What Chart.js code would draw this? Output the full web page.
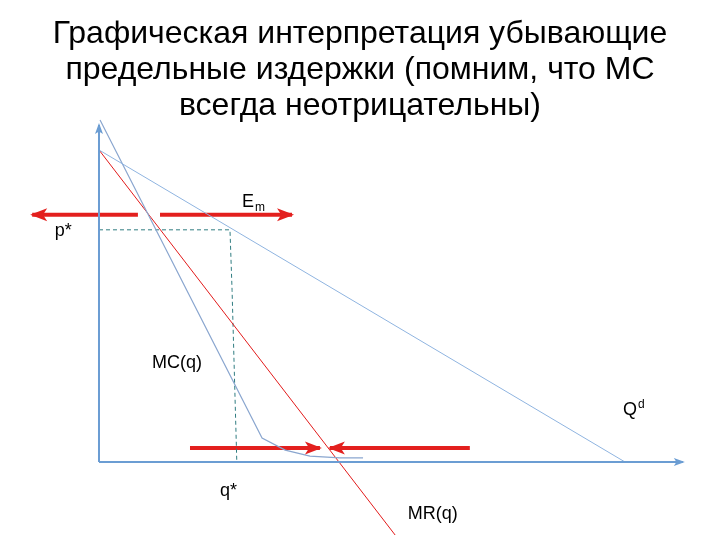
<!DOCTYPE html>
<html>
<head>
<meta charset="utf-8">
<script src="https://cdn.jsdelivr.net/npm/chart.js@4.4.1/dist/chart.umd.min.js"></script>
<style>
  html, body { margin: 0; padding: 0; background: #fff; }
  #wrap { width: 720px; height: 540px; }
</style>
</head>
<body>
<div id="wrap"><canvas id="c"></canvas></div>
<script>
// quantity (q) / price (p) in chart units, origin where the axes meet
const demandQ = [0, 10];
const demandP = [10, 0];
const mrQ = [0, 5.63];
const mrP = [10, -2.34];
const mcQ = [0.02, 3.10, 3.54, 4.01, 4.58, 5.02];
const mcP = [10.96, 0.77, 0.38, 0.19, 0.13, 0.13];
const starQ = [0, 2.49, 2.53, 2.62];
const starP = [7.44, 7.44, 5.5, 0];

// red "adjustment" arrows (start -> tip)
const topLeftQ = [0.74, -1.27];
const topRightQ = [1.16, 3.67];
const topP = [7.92, 7.92];
const lowLeftQ = [1.73, 4.20];
const lowRightQ = [7.05, 4.39];
const lowP = [0.45, 0.45];

const axisYQ = [0, 0], axisYP = [0, 10.8];
const axisXQ = [0, 11.10], axisXP = [0, 0];

const titleLines = [
  'Графическая интерпретация убывающие',
  'предельные издержки (помним, что МС',
  'всегда неотрицательны)'
];

// text labels: [text, q, p, sub/sup]
const labels = [
  ['E', 2.72, 8.17, 'm', 'sub'],
  ['p*', -0.84, 7.24],
  ['MC(q)', 1.01, 3.01],
  ['Q', 9.96, 1.51, 'd', 'sup'],
  ['q*', 2.30, -1.09],
  ['MR(q)', 5.87, -1.83]
];

const zip = (xs, ys) => xs.map((x, i) => ({x: x, y: ys[i]}));

const line = (data, color, width, extra) => Object.assign({
  data: data, borderColor: color, backgroundColor: color, borderWidth: width,
  showLine: true, pointRadius: 0, tension: 0, fill: false, clip: false
}, extra || {});

const redArrow = {len: 15, width: 13};
const axisArrow = {len: 9, width: 8};
const RED = '#e3201e';
const AXIS = '#6b9dd3';

const arrowHeads = {
  id: 'arrowHeads',
  afterDatasetsDraw(chart) {
    const ctx = chart.ctx;
    chart.data.datasets.forEach((ds, i) => {
      if (!ds.arrow) return;
      const pts = chart.getDatasetMeta(i).data;
      const a = pts[pts.length - 2], b = pts[pts.length - 1];
      const ang = Math.atan2(b.y - a.y, b.x - a.x);
      const L = ds.arrow.len, W = ds.arrow.width;
      ctx.save();
      ctx.translate(b.x, b.y);
      ctx.rotate(ang);
      ctx.beginPath();
      ctx.moveTo(2, 0);
      ctx.lineTo(-L, -W / 2);
      ctx.lineTo(-L * 0.72, 0);
      ctx.lineTo(-L, W / 2);
      ctx.closePath();
      ctx.fillStyle = ds.borderColor;
      ctx.fill();
      ctx.restore();
    });
  }
};

const textLabels = {
  id: 'textLabels',
  afterDraw(chart) {
    const ctx = chart.ctx, sx = chart.scales.x, sy = chart.scales.y;
    ctx.save();
    ctx.fillStyle = '#000';
    ctx.textAlign = 'left';
    ctx.textBaseline = 'alphabetic';
    labels.forEach(l => {
      const x = sx.getPixelForValue(l[1]), y = sy.getPixelForValue(l[2]);
      ctx.font = '18px "Liberation Sans", Arial, sans-serif';
      ctx.fillText(l[0], x, y);
      if (l[3]) {
        const w = ctx.measureText(l[0]).width;
        ctx.font = '12px "Liberation Sans", Arial, sans-serif';
        ctx.fillText(l[3], x + w + 1, l[4] === 'sub' ? y + 4 : y - 7);
      }
    });
    ctx.restore();
  }
};

new Chart(document.getElementById('c'), {
  type: 'scatter',
  data: {
    datasets: [
      line(zip(axisYQ, axisYP), AXIS, 2, {arrow: axisArrow}),
      line(zip(axisXQ, axisXP), AXIS, 2, {arrow: axisArrow}),
      line(zip(demandQ, demandP), '#8fb4e0', 1),
      line(zip(mcQ, mcP), '#8aa6cf', 1.2),
      line(zip(mrQ, mrP), '#e21a1a', 1),
      line(zip(starQ, starP), '#2f7c80', 1, {borderDash: [4, 3]}),
      line(zip(topLeftQ, topP), RED, 4, {arrow: redArrow}),
      line(zip(topRightQ, topP), RED, 4, {arrow: redArrow}),
      line(zip(lowLeftQ, lowP), RED, 4, {arrow: redArrow}),
      line(zip(lowRightQ, lowP), RED, 4, {arrow: redArrow})
    ]
  },
  options: {
    responsive: true,
    maintainAspectRatio: false,
    animation: false,
    layout: { padding: 0 },
    scales: {
      x: { type: 'linear', min: -1.882, max: 11.806, display: false },
      y: { type: 'linear', min: -2.5, max: 10.8, display: false }
    },
    plugins: {
      legend: { display: false },
      tooltip: { enabled: false },
      title: {
        display: true,
        text: titleLines,
        color: '#000',
        font: { family: '"Liberation Sans", Arial, sans-serif', size: 32, weight: 'normal', lineHeight: 1.13 },
        padding: { top: 16, bottom: 0.5 }
      }
    }
  },
  plugins: [arrowHeads, textLabels]
});
</script>
</body>
</html>
